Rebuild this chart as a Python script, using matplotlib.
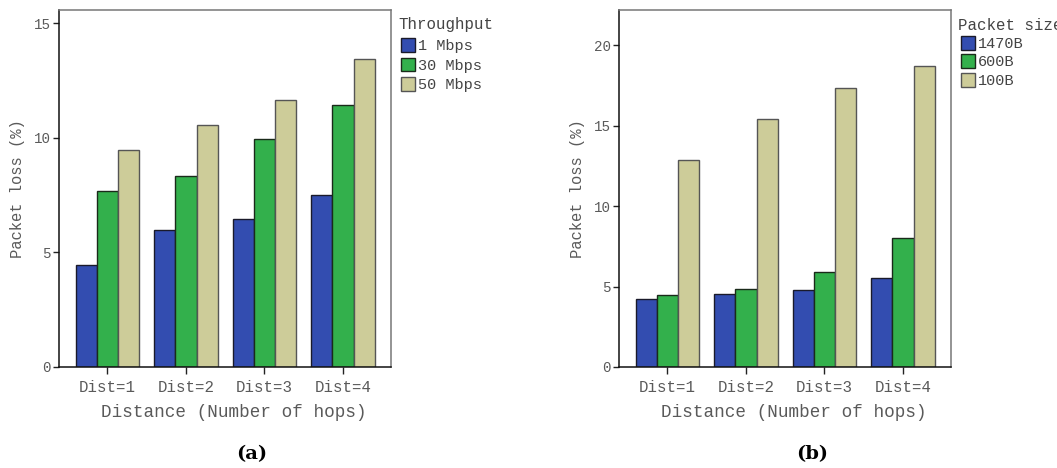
import matplotlib
matplotlib.use('Agg')
import matplotlib.pyplot as plt
import numpy as np

# data
distances = ['Dist=1', 'Dist=2', 'Dist=3', 'Dist=4']

throughput_labels = ['1 Mbps', '30 Mbps', '50 Mbps']
loss_1mbps = [4.43, 5.97, 6.44, 7.49]
loss_30mbps = [7.67, 8.34, 9.94, 11.44]
loss_50mbps = [9.48, 10.54, 11.64, 13.42]

size_labels = ['1470B', '600B', '100B']
loss_1470b = [4.21, 4.56, 4.77, 5.52]
loss_600b = [4.46, 4.83, 5.89, 8.05]
loss_100b = [12.88, 15.45, 17.32, 18.69]

colors = ['#334db0', '#33b04c', '#cdcc99']
edges = ['#1a1a2a', '#1a2a1a', '#555555']
text_gray = '#5a5a5a'
font = 'Liberation Mono'

W, H = 1057, 468
fig = plt.figure(figsize=(W / 100, H / 100), dpi=100)


def draw_panel(left_px, series, labels, ymax, yticks, legend_title, caption,
               entry_gap, legend_top):
    ax = fig.add_axes([left_px / W, (H - 367) / H, 332 / W, 357 / H])
    x = np.arange(len(distances))
    width = 0.27
    for i, (vals, lab) in enumerate(zip(series, labels)):
        ax.bar(x + (i - 1) * width, vals, width, color=colors[i],
               edgecolor=edges[i], linewidth=1.0, label=lab, zorder=2)
    ax.set_xlim(-0.615, 3.61)
    ax.set_ylim(0, ymax)
    ax.set_xticks(x)
    ax.set_xticklabels(distances, fontfamily=font, fontsize=11.3, color=text_gray)
    ax.set_yticks(yticks)
    ax.set_yticklabels([str(t) for t in yticks], fontfamily=font, fontsize=10.2,
                       color=text_gray)
    ax.tick_params(axis='x', length=5, width=1, color='#222222', pad=4)
    ax.tick_params(axis='y', length=4, width=1, color='#222222', pad=2)
    ax.set_xlabel('Distance (Number of hops)', fontfamily=font, fontsize=12.7,
                  color=text_gray)
    ax.xaxis.set_label_coords(0.527, -0.105)
    ax.set_ylabel('Packet loss (%)', fontfamily=font, fontsize=11.2,
                  color=text_gray, labelpad=6)
    ax.spines['left'].set_color('#111111')
    ax.spines['bottom'].set_color('#111111')
    ax.spines['top'].set_color('#777777')
    ax.spines['right'].set_color('#777777')
    for s in ax.spines.values():
        s.set_linewidth(1.1)

    # legend title drawn separately so the entries sit slightly indented
    ax.text(1 + 7 / 332, 1 - 15 / 357, legend_title, transform=ax.transAxes,
            fontfamily=font, fontsize=11.3, color='#444444', va='center',
            ha='left')
    leg = ax.legend(loc='upper left',
                    bbox_to_anchor=(1 + 10 / 332, 1 - legend_top / 357),
                    frameon=False, prop={'family': font, 'size': 11},
                    handlelength=0.9, handleheight=1.0, handletextpad=0.2,
                    labelspacing=entry_gap, borderaxespad=0, borderpad=0)
    for t in leg.get_texts():
        t.set_color('#444444')

    fig.text((left_px + 193) / W, 1 - 454 / H, caption, fontfamily='DejaVu Serif',
             fontweight='bold', fontsize=14, ha='center', va='center')
    return ax


draw_panel(59, [loss_1mbps, loss_30mbps, loss_50mbps], throughput_labels,
           15.57, [0, 5, 10, 15], 'Throughput', '(a)', 0.3, 28)
draw_panel(619, [loss_1470b, loss_600b, loss_100b], size_labels,
           22.2, [0, 5, 10, 15, 20], 'Packet size', '(b)', 0.22, 26)

fig.savefig('out.png', dpi=100)
